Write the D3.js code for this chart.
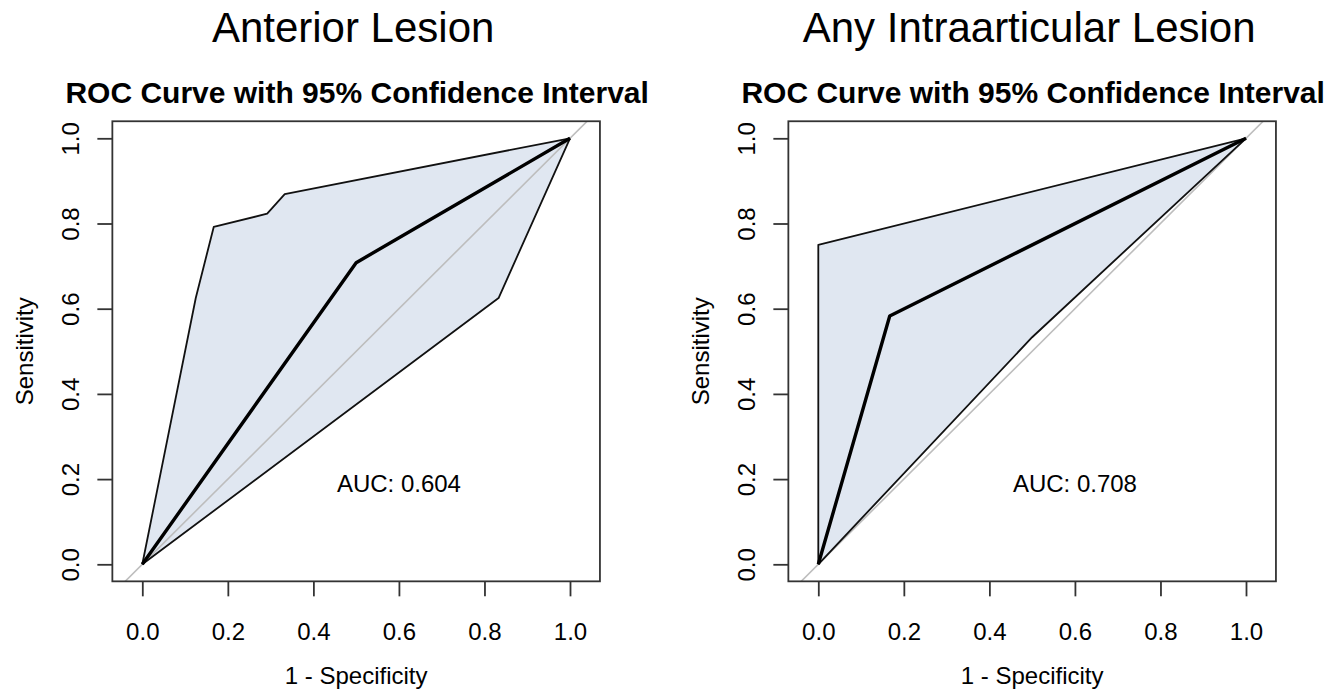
<!DOCTYPE html>
<html>
<head>
<meta charset="utf-8">
<script src="https://cdn.jsdelivr.net/npm/d3@7"></script>
<style>
  body { margin: 0; background: #fff; }
  text { font-family: "Liberation Sans", Arial, sans-serif; fill: #000; }
</style>
</head>
<body>
<script>
// panel titles and AUC
var panelTitles = ["Anterior Lesion", "Any Intraarticular Lesion"];
var subTitle = "ROC Curve with 95% Confidence Interval";
var aucValues = [0.604, 0.708];

var xTicks = [0, 0.2, 0.4, 0.6, 0.8, 1.0];
var yTicks = [0, 0.2, 0.4, 0.6, 0.8, 1.0];

// Anterior Lesion
var rocFprA = [0, 0.5, 1];
var rocTprA = [0, 0.708, 1];
var upFprA = [0, 0.125, 0.167, 0.292, 0.333, 1];
var upTprA = [0, 0.625, 0.792, 0.823, 0.869, 1];
var loFprA = [0, 0.833, 1];
var loTprA = [0, 0.625, 1];

// Any Intraarticular Lesion
var rocFprB = [0, 0.167, 1];
var rocTprB = [0, 0.583, 1];
var upFprB = [0, 0, 1];
var upTprB = [0, 0.75, 1];
var loFprB = [0, 0.5, 1];
var loTprB = [0, 0.533, 1];

var panels = [
  {title: panelTitles[0], auc: aucValues[0], roc: [rocFprA, rocTprA], up: [upFprA, upTprA], lo: [loFprA, loTprA], dx: 0},
  {title: panelTitles[1], auc: aucValues[1], roc: [rocFprB, rocTprB], up: [upFprB, upTprB], lo: [loFprB, loTprB], dx: 676}
];

function pts(p) { return p[0].map(function(d, i){ return [d, p[1][i]]; }); }

var width = 1344, height = 689;
var svg = d3.select("body").append("svg").attr("width", width).attr("height", height);

var xLim = [-0.07, 1.07], yLim = [-0.04, 1.04];

panels.forEach(function(p) {
  var x = d3.scaleLinear().domain([0, 1]).range([142.3 + p.dx, 570 + p.dx]);
  var y = d3.scaleLinear().domain([0, 1]).range([564.3, 138.3]);
  var g = svg.append("g");
  var line = d3.line().x(function(d){ return x(d[0]); }).y(function(d){ return y(d[1]); });

  var cx = (x(xLim[0]) + x(xLim[1])) / 2;

  // titles
  g.append("text").attr("x", cx - 3).attr("y", 42).attr("text-anchor", "middle")
    .style("font-size", "42px").text(p.title);
  g.append("text").attr("x", cx + 1).attr("y", 103).attr("text-anchor", "middle")
    .style("font-size", "30px").style("font-weight", "bold").text(subTitle);

  // clip for diagonal
  var clipId = "clip" + p.dx;
  svg.append("clipPath").attr("id", clipId).append("rect")
    .attr("x", x(xLim[0])).attr("y", y(yLim[1]))
    .attr("width", x(xLim[1]) - x(xLim[0])).attr("height", y(yLim[0]) - y(yLim[1]));

  // CI shape
  var up = pts(p.up), lo = pts(p.lo);
  var poly = up.concat(lo.slice().reverse());
  g.append("path").attr("d", line(poly) + "Z")
    .attr("fill", "#e0e7f1").attr("stroke", "none");

  // identity line
  g.append("path").attr("clip-path", "url(#" + clipId + ")")
    .attr("d", line([[-0.1, -0.1], [1.1, 1.1]]))
    .attr("stroke", "#bdbdbd").attr("stroke-width", 1.6).attr("fill", "none");

  // CI bounds
  [up, lo].forEach(function(b) {
    g.append("path").attr("d", line(b)).attr("fill", "none")
      .attr("stroke", "#111").attr("stroke-width", 1.8).attr("stroke-linejoin", "round");
  });

  // ROC curve
  g.append("path").attr("d", line(pts(p.roc))).attr("fill", "none")
    .attr("stroke", "#000").attr("stroke-width", 3.4).attr("stroke-linejoin", "round");

  // box
  g.append("rect").attr("x", x(xLim[0])).attr("y", y(yLim[1]))
    .attr("width", x(xLim[1]) - x(xLim[0])).attr("height", y(yLim[0]) - y(yLim[1]))
    .attr("fill", "none").attr("stroke", "#333").attr("stroke-width", 1.8);

  // x axis
  var xAxis = g.append("g").attr("transform", "translate(0," + y(yLim[0]) + ")")
    .call(d3.axisBottom(x).tickValues(xTicks).tickSize(15).tickPadding(26.5).tickFormat(d3.format(".1f")));
  xAxis.select(".domain").remove();
  xAxis.selectAll("line").attr("stroke", "#333").attr("stroke-width", 1.8);
  xAxis.selectAll("text").attr("fill", "#000").style("font-size", "24px")
    .style("font-family", "'Liberation Sans', Arial, sans-serif");

  // y axis
  var yAxis = g.append("g").attr("transform", "translate(" + x(xLim[0]) + ",0)")
    .call(d3.axisLeft(y).tickValues(yTicks).tickSize(15).tickFormat(d3.format(".1f")));
  yAxis.select(".domain").remove();
  yAxis.selectAll("line").attr("stroke", "#333").attr("stroke-width", 1.8);
  yAxis.selectAll("text").attr("fill", "#000").style("font-size", "24px")
    .style("font-family", "'Liberation Sans', Arial, sans-serif")
    .attr("x", null).attr("dy", null).attr("text-anchor", "middle")
    .attr("transform", "translate(-33.5,0) rotate(-90)");

  // axis labels
  g.append("text").attr("x", x(0.5)).attr("y", 684).attr("text-anchor", "middle")
    .style("font-size", "24px").text("1 - Specificity");
  g.append("text").attr("transform", "translate(" + (33 + p.dx) + "," + y(0.5) + ") rotate(-90)")
    .attr("text-anchor", "middle").style("font-size", "24px").text("Sensitivity");

  // AUC
  g.append("text").attr("x", x(0.6)).attr("y", y(0.2)).attr("dy", "0.55em")
    .attr("text-anchor", "middle").style("font-size", "24px")
    .text("AUC: " + d3.format(".3f")(p.auc));
});
</script>
</body>
</html>
